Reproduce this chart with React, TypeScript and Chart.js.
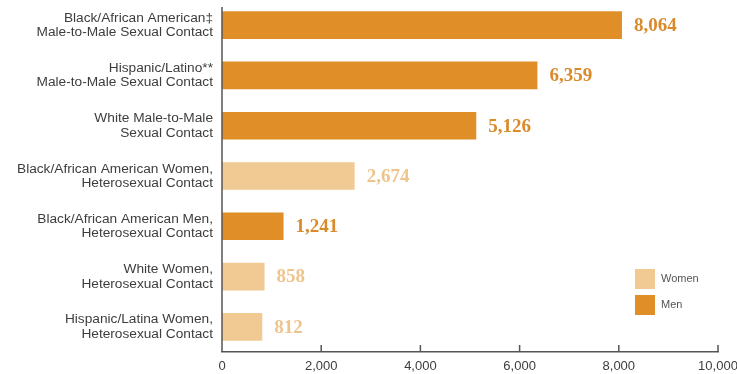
import React, { useEffect, useRef } from "react";
import { Chart, registerables } from "chart.js";

Chart.register(...registerables);

const categories: string[][] = [
  ["Black/African American\u2021", "Male-to-Male Sexual Contact"],
  ["Hispanic/Latino**", "Male-to-Male Sexual Contact"],
  ["White Male-to-Male", "Sexual Contact"],
  ["Black/African American Women,", "Heterosexual Contact"],
  ["Black/African American Men,", "Heterosexual Contact"],
  ["White Women,", "Heterosexual Contact"],
  ["Hispanic/Latina Women,", "Heterosexual Contact"],
];
const values: number[] = [8064, 6359, 5126, 2674, 1241, 858, 812];
const genders: string[] = ["Men", "Men", "Men", "Women", "Men", "Women", "Women"];
const seriesNames: string[] = ["Women", "Men"];
const xTicks = { min: 0, max: 10000, step: 2000 };

const BAR_COLORS: Record<string, string> = { Women: "#F1C993", Men: "#E08F28" };
const LABEL_COLORS: Record<string, string> = { Women: "#EFC48C", Men: "#D98A2B" };
const AXIS_COLOR = "#555555";
const TEXT_COLOR = "#3d3d3d";

const valueLabels = {
  id: "valueLabels",
  afterDatasetsDraw(chart: any) {
    const ctx = chart.ctx;
    ctx.save();
    ctx.font = "bold 19px 'Liberation Serif'";
    ctx.textBaseline = "middle";
    ctx.textAlign = "left";
    chart.data.datasets.forEach((ds: any, di: number) => {
      const meta = chart.getDatasetMeta(di);
      meta.data.forEach((el: any, i: number) => {
        const v = ds.data[i];
        if (v == null) return;
        ctx.fillStyle = LABEL_COLORS[ds.label];
        ctx.fillText(v.toLocaleString("en-US"), el.x + 12, el.y + 1);
      });
    });
    ctx.restore();
  },
};

const axisDecor = {
  id: "axisDecor",
  afterDraw(chart: any) {
    const ctx = chart.ctx;
    const area = chart.chartArea;
    const xs = chart.scales.x;
    ctx.save();
    ctx.strokeStyle = AXIS_COLOR;
    ctx.lineWidth = 1.5;
    // y axis line
    ctx.beginPath();
    ctx.moveTo(area.left, area.top + 7);
    ctx.lineTo(area.left, area.bottom);
    ctx.stroke();
    // upward tick marks
    xs.ticks.forEach((t: any) => {
      if (t.value === xs.min) return;
      const px = xs.getPixelForValue(t.value);
      ctx.beginPath();
      ctx.moveTo(px, area.bottom);
      ctx.lineTo(px, area.bottom - 7);
      ctx.stroke();
    });
    // legend
    const lx = area.right - 83;
    let ly = area.bottom - 83;
    ctx.font = "11px 'Liberation Sans'";
    ctx.textBaseline = "middle";
    ctx.textAlign = "left";
    chart.data.datasets.forEach((ds: any) => {
      ctx.fillStyle = ds.backgroundColor;
      ctx.fillRect(lx, ly, 20, 20);
      ctx.fillStyle = "#555555";
      ctx.fillText(ds.label, lx + 26, ly + 10);
      ly += 26;
    });
    ctx.restore();
  },
};

export default function App() {
  const ref = useRef<HTMLCanvasElement | null>(null);
  useEffect(() => {
    if (!ref.current) return;
    const datasets = seriesNames.map((name) => ({
      label: name,
      data: values.map((v, i) => (genders[i] === name ? v : null)),
      backgroundColor: BAR_COLORS[name],
      borderWidth: 0,
      grouped: false,
      barPercentage: 0.55,
      categoryPercentage: 1,
    }));
    const chart = new Chart(ref.current, {
      type: "bar",
      data: { labels: categories as any, datasets: datasets as any },
      options: {
        indexAxis: "y",
        animation: false,
        responsive: false,
        maintainAspectRatio: false,
        layout: { padding: { top: 0, left: 0, right: 0, bottom: 0 } },
        plugins: { legend: { display: false }, tooltip: { enabled: false } },
        scales: {
          x: {
            min: xTicks.min,
            max: xTicks.max,
            ticks: {
              stepSize: xTicks.step,
              color: TEXT_COLOR,
              font: { family: "'Liberation Sans'", size: 13 },
              padding: 7,
              maxRotation: 0,
            },
            grid: { display: false, drawTicks: false },
            border: { display: true, color: AXIS_COLOR, width: 1.5 },
            afterFit(scale: any) {
              scale.height = 22;
              scale.paddingLeft = 0;
              scale.paddingRight = 19;
            },
          },
          y: {
            ticks: {
              color: TEXT_COLOR,
              font: { family: "'Liberation Sans'", size: 13.7, lineHeight: 1.05 },
              padding: 9,
              autoSkip: false,
            },
            grid: { display: false, drawTicks: false },
            border: { display: false },
            afterFit(scale: any) {
              scale.width = 222;
              scale.paddingTop = 0;
              scale.paddingBottom = 0;
            },
          },
        },
      },
      plugins: [valueLabels, axisDecor],
    });
    return () => chart.destroy();
  }, []);
  return (
    <div style={{ position: "absolute", left: 0, top: 0, width: 737, height: 374, background: "#fff" }}>
      <canvas ref={ref} width={737} height={374} style={{ width: 737, height: 374 }} />
    </div>
  );
}
